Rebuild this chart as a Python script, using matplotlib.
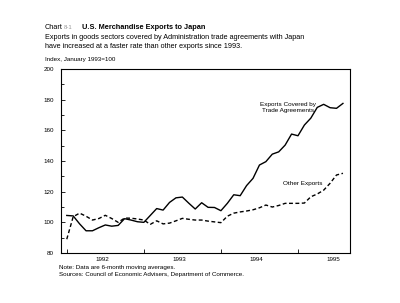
import matplotlib
matplotlib.use("Agg")
import matplotlib.pyplot as plt
import numpy as np

# monthly index, Jan 1992 .. Aug 1995 (6-month moving averages)
covered = [104.5, 104.2, 99.0, 94.5, 94.5, 96.5, 98.3, 97.5, 98.0, 102.4, 101.5, 100.4,
           100.0, 104.5, 109.0, 108.0, 113.0, 116.0, 116.5, 112.5, 108.7, 112.8, 109.8, 109.7,
           107.6, 112.4, 118.0, 117.4, 124.0, 128.7, 137.4, 139.6, 144.5, 146.0, 150.4, 157.6,
           156.5, 163.5, 168.0, 175.0, 177.0, 174.8, 174.4, 177.6]
other = [89.0, 103.7, 106.0, 104.0, 101.5, 102.5, 104.6, 102.5, 100.0, 102.8, 102.7, 102.2,
         101.5, 98.7, 101.0, 99.0, 99.5, 101.0, 102.6, 102.0, 101.5, 101.5, 100.8, 100.3,
         99.8, 104.0, 106.0, 106.8, 107.4, 108.2, 109.5, 111.3, 110.0, 111.0, 112.4, 112.4,
         112.4, 112.6, 116.7, 118.5, 121.0, 125.5, 130.9, 132.0]
years = ["1992", "1993", "1994", "1995"]

plt.rcParams["font.family"] = ["Liberation Sans", "DejaVu Sans"]

fig = plt.figure(figsize=(4, 3.03), dpi=100)
ax = fig.add_axes([0.152, 0.165, 0.723, 0.607])

months = np.arange(len(covered))
ax.plot(months, covered, color="black", lw=1.0)
ax.plot(months, other, color="black", lw=1.0, dashes=(2.8, 1.8))

ax.set_xlim(-0.93, 44.1)
ax.set_ylim(80, 200)

year_start = [12 * i for i in range(len(years))]
ax.set_xticks(year_start)
ax.set_xticklabels([])
ax.set_xticks([s + 5.5 for s in year_start], minor=True)
ax.set_xticklabels(years, minor=True)
ax.tick_params(axis="x", which="major", direction="in", length=3, width=0.6)
ax.tick_params(axis="x", which="minor", length=0, labelsize=4.5, pad=3)

ax.set_yticks(np.arange(80, 201, 20))
ax.set_yticks(np.arange(90, 200, 20), minor=True)
ax.tick_params(axis="y", which="major", direction="in", length=3, width=0.6,
               labelsize=4.5, pad=5)
ax.tick_params(axis="y", which="minor", direction="in", length=2, width=0.6)
for s in ax.spines.values():
    s.set_linewidth(0.8)

ax.text(0.785, 0.79, "Exports Covered by\nTrade Agreements", transform=ax.transAxes,
        ha="center", va="center", fontsize=4.6, linespacing=1.3)
ax.text(0.835, 0.38, "Other Exports", transform=ax.transAxes,
        ha="center", va="center", fontsize=4.6)

fig.text(0.112, 0.908, "Chart", fontsize=5.3, va="center")
fig.text(0.16, 0.908, "8-1", fontsize=4.3, va="center", color="#999999")
fig.text(0.205, 0.908, "U.S. Merchandise Exports to Japan", fontsize=5.3,
         fontweight="bold", va="center")
fig.text(0.112, 0.875, "Exports in goods sectors covered by Administration trade agreements with Japan",
         fontsize=5.25, va="center")
fig.text(0.112, 0.848, "have increased at a faster rate than other exports since 1993.",
         fontsize=5.25, va="center")
fig.text(0.112, 0.804, "Index, January 1993=100", fontsize=4.5, va="center")

fig.text(0.148, 0.118, "Note: Data are 6-month moving averages.", fontsize=4.5, va="center")
fig.text(0.148, 0.094, "Sources: Council of Economic Advisers, Department of Commerce.",
         fontsize=4.5, va="center")

fig.savefig("out.png", dpi=100)
